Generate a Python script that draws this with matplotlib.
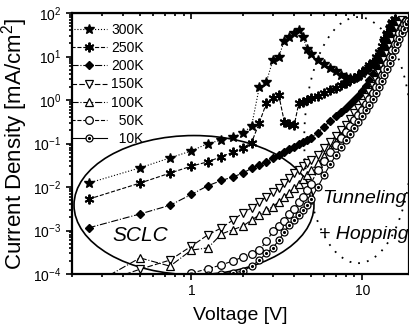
import numpy as np
import matplotlib
matplotlib.use("Agg")
from matplotlib import pyplot as plt
from matplotlib.patches import Ellipse
from matplotlib.ticker import LogLocator, NullFormatter, FixedLocator, FixedFormatter

nan = np.nan

# Voltage points (V)
voltage = [0.25, 0.5, 0.75, 1.0, 1.25, 1.5, 1.75, 2.0, 2.25, 2.5, 2.75, 3.0, 3.25, 3.5, 3.75, 4.0, 4.25, 4.5, 4.75, 5.0,
           5.5, 6.0, 6.5, 7.0, 7.5, 8.0, 8.5, 9.0, 9.5, 10.0, 10.5, 11.0, 11.5, 12.0, 12.5, 13.0, 13.5, 14.0, 14.5,
           15.0, 15.5, 16.0, 16.5, 17.0, 17.5, 18.0, 18.5]

# log10 of current density [mA/cm2]
log_j_300k = [-1.91, -1.56, -1.33, -1.17, -1.00, -0.92, -0.85, -0.76, -0.60, 0.30, 0.42, 0.92, 1.00, 1.36, 1.45, 1.55, 1.62, 1.45, 1.18, 1.06,
              0.92, 0.83, 0.74, 0.66, 0.58, 0.53, 0.50, 0.50, 0.55, 0.62, 0.70, 0.76, 0.82, 0.88, 1.00, 1.15, 1.35, 1.52, 1.66, 1.78, 1.86,
              nan, nan, nan, nan, nan, nan]
log_j_250k = [-2.28, -1.91, -1.68, -1.52, -1.42, -1.30, -1.20, -1.10, -0.98, -0.52, -0.07, 0.05, 0.11, -0.50, -0.55, -0.58, -0.08, -0.04, 0.00, 0.04,
              0.10, 0.16, 0.22, 0.28, 0.34, 0.40, 0.45, 0.50, 0.56, 0.64, 0.72, 0.80, 0.88, 0.98, 1.10, 1.24, 1.40, 1.55, 1.68, 1.79, 1.87,
              nan, nan, nan, nan, nan, nan]
log_j_200k = [-2.94, -2.62, -2.42, -2.17, -1.97, -1.85, -1.77, -1.68, -1.57, -1.49, -1.42, -1.34, -1.27, -1.20, -1.13, -1.07, -1.02, -0.97, -0.92, -0.87,
              -0.75, -0.61, -0.48, -0.36, -0.27, -0.19, -0.10, -0.01, 0.09, 0.20, 0.32, 0.45, 0.60, 0.75, 0.90, 1.05, 1.19, 1.33, 1.46, 1.58, 1.68,
              1.77, 1.84, nan, nan, nan, nan]
log_j_150k = [-4.30, -3.89, -3.68, -3.36, -3.10, -2.94, -2.76, -2.60, -2.48, -2.35, -2.23, -2.12, -2.02, -1.90, -1.79, -1.68, -1.60, -1.52, -1.45, -1.38,
              -1.26, -1.10, -0.96, -0.83, -0.70, -0.57, -0.44, -0.31, -0.19, -0.07, 0.06, 0.19, 0.33, 0.47, 0.61, 0.76, 0.91, 1.06, 1.21, 1.36, 1.50,
              1.63, 1.74, 1.84, nan, nan, nan]
log_j_100k = [-4.30, -3.63, -3.82, -3.45, -3.40, -3.08, -2.98, -2.90, -2.76, -2.64, -2.53, -2.45, -2.34, -2.22, -2.13, -2.02, -1.92, -1.82, -1.72, -1.62,
              -1.45, -1.28, -1.12, -0.97, -0.83, -0.69, -0.56, -0.43, -0.30, -0.17, -0.04, 0.10, 0.24, 0.38, 0.52, 0.66, 0.80, 0.95, 1.10, 1.25, 1.39,
              1.53, 1.65, 1.76, 1.84, nan, nan]
log_j_50k = [-4.50, -4.30, -4.10, -3.98, -3.88, -3.79, -3.70, -3.61, -3.53, -3.45, -3.25, -3.02, -2.90, -2.78, -2.63, -2.50, -2.35, -2.22, -2.08, -1.92,
             -1.62, -1.40, -1.20, -1.03, -0.88, -0.74, -0.60, -0.47, -0.35, -0.23, -0.10, 0.03, 0.17, 0.30, 0.44, 0.58, 0.72, 0.86, 1.00, 1.14, 1.28,
             1.42, 1.55, 1.66, 1.75, 1.82, nan]
log_j_10k = [-4.60, -4.40, -4.20, -4.05, -4.02, -3.99, -3.97, -3.94, -3.82, -3.68, -3.52, -3.40, -3.22, -3.03, -2.88, -2.76, -2.65, -2.53, -2.42, -2.28,
             -2.00, -1.72, -1.48, -1.27, -1.09, -0.93, -0.78, -0.64, -0.50, -0.37, -0.24, -0.11, 0.02, 0.16, 0.30, 0.44, 0.58, 0.72, 0.86, 1.00, 1.14,
             1.28, 1.41, 1.53, 1.64, 1.74, 1.82]

labels = ["300K", "250K", "200K", "150K", "100K", "  50K", "  10K"]

plt.rcParams['font.family'] = ['Liberation Sans', 'DejaVu Sans']
plt.rcParams['mathtext.fontset'] = 'custom'
plt.rcParams['mathtext.rm'] = 'Liberation Sans'
plt.rcParams['mathtext.it'] = 'Liberation Sans:italic'

fig = plt.figure(figsize=(4.1, 3.32), dpi=100)
ax = fig.add_axes([0.1756, 0.1747, 0.8220, 0.7861])

v = np.array(voltage)
lw = 0.8
h300, = ax.plot(v, 10 ** np.array(log_j_300k), ls=':', color='k', lw=lw, marker='*', ms=7, mfc='k', mec='k')
h250, = ax.plot(v, 10 ** np.array(log_j_250k), ls='--', color='k', lw=lw, marker=(6, 2, 0), ms=7, mec='k', mew=1.4)
h200, = ax.plot(v, 10 ** np.array(log_j_200k), ls='-.', color='k', lw=lw, marker='D', ms=4.5, mfc='k', mec='k')
h150, = ax.plot(v, 10 ** np.array(log_j_150k), ls=(0, (5, 2)), color='k', lw=lw, marker='v', ms=5.5, mfc='white', mec='k', mew=0.9)
h100, = ax.plot(v, 10 ** np.array(log_j_100k), ls='-.', color='k', lw=lw, marker='^', ms=5.5, mfc='white', mec='k', mew=0.9)
h50, = ax.plot(v, 10 ** np.array(log_j_50k), ls='--', color='k', lw=lw, marker='o', ms=5.5, mfc='white', mec='k', mew=0.9)
h10, = ax.plot(v, 10 ** np.array(log_j_10k), ls='-', color='k', lw=lw, marker='o', ms=5, mfc='white', mec='k', mew=0.9)
h10d, = ax.plot(v, 10 ** np.array(log_j_10k), ls='none', marker='.', ms=2.5, color='k')

ax.set_xscale('log')
ax.set_yscale('log')
ax.set_xlim(0.2, 18.8)
ax.set_ylim(1e-4, 1e2)

ax.xaxis.set_major_locator(FixedLocator([1, 10]))
ax.xaxis.set_major_formatter(FixedFormatter(['1', '10']))
ax.xaxis.set_minor_locator(LogLocator(base=10, subs=np.arange(2, 10)))
ax.xaxis.set_minor_formatter(NullFormatter())
ax.yaxis.set_major_locator(LogLocator(base=10, numticks=10))
ax.yaxis.set_minor_locator(LogLocator(base=10, subs=np.arange(2, 10), numticks=10))
ax.yaxis.set_minor_formatter(NullFormatter())

ax.tick_params(which='both', direction='out', labelsize=10, width=1.2)
ax.tick_params(which='major', length=4)
ax.tick_params(which='minor', length=2)
for s in ax.spines.values():
    s.set_linewidth(1.6)

top = ax.secondary_xaxis('top')
top.set_xscale('log')
top.xaxis.set_major_locator(FixedLocator([1, 10]))
top.xaxis.set_minor_locator(LogLocator(base=10, subs=np.arange(2, 10)))
top.tick_params(which='both', direction='in', labeltop=False, width=1.2)
top.tick_params(which='major', length=4)
top.tick_params(which='minor', length=2)

ax.set_xlabel('Voltage [V]', fontsize=14, labelpad=6)
ax.set_ylabel('Current Density [mA/cm$^2$]', fontsize=16, labelpad=2)

# SCLC region and tunneling region outlines
ax.add_patch(Ellipse((0.362, 0.264), 0.712, 0.533, transform=ax.transAxes,
                     fill=False, ec='k', lw=1.2))
ax.add_patch(Ellipse((0.849, 0.513), 0.320, 0.943, transform=ax.transAxes,
                     fill=False, ec='k', lw=1.3, ls=(0, (1, 4))))

ax.text(0.202, 0.146, 'SCLC', transform=ax.transAxes, fontsize=15, style='italic',
        ha='center', va='center')
ax.text(0.742, 0.291, 'Tunneling', transform=ax.transAxes, fontsize=14, style='italic',
        ha='left', va='center')
ax.text(0.733, 0.153, '+ Hopping', transform=ax.transAxes, fontsize=14, style='italic',
        ha='left', va='center')

handles = [h300, h250, h200, h150, h100, h50, (h10, h10d)]
ax.legend(handles, labels, loc='upper left', bbox_to_anchor=(-0.003, 0.962), frameon=False,
          fontsize=10, handlelength=2.6, handletextpad=0.3, labelspacing=0.3, borderpad=0,
          borderaxespad=0)

fig.savefig('out.png', dpi=100)
